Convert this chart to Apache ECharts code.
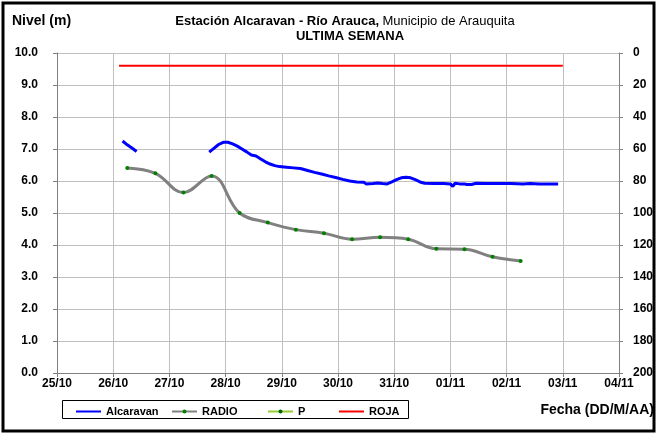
<!DOCTYPE html>
<html>
<head>
<meta charset="utf-8">
<script src="https://cdn.jsdelivr.net/npm/echarts@6/dist/echarts.min.js"></script>
<style>
html, body { margin: 0; padding: 0; background: #fff; }
#chart { width: 658px; height: 434px; }
</style>
</head>
<body>
<div id="chart"></div>
<script>
// Day labels on the time axis (25/10 .. 04/11)
const dayLabels = ['25/10', '26/10', '27/10', '28/10', '29/10', '30/10', '31/10', '01/11', '02/11', '03/11', '04/11'];

// Alcaravan station level (m); a null value breaks the line
const alcaravanTimes = [
  '26/10 04:00', '26/10 06:00', '26/10 08:00', '26/10 10:00',
  '27/10 00:00',
  '27/10 17:00', '27/10 19:00', '27/10 21:00', '27/10 23:00',
  '28/10 01:00', '28/10 03:00', '28/10 05:00', '28/10 07:00', '28/10 09:00', '28/10 11:00',
  '28/10 13:00', '28/10 15:00', '28/10 17:00', '28/10 19:00', '28/10 21:00', '28/10 23:00',
  '29/10 02:00', '29/10 05:00', '29/10 08:00', '29/10 11:00', '29/10 14:00', '29/10 17:00',
  '29/10 20:00', '29/10 23:00',
  '30/10 02:00', '30/10 05:00', '30/10 08:00', '30/10 11:00', '30/10 12:00', '30/10 15:00',
  '30/10 17:00', '30/10 19:00', '30/10 21:00', '30/10 23:00',
  '31/10 01:00', '31/10 03:00', '31/10 05:00', '31/10 07:00', '31/10 09:00', '31/10 11:00',
  '31/10 13:00', '31/10 17:00', '31/10 21:00',
  '01/11 00:00', '01/11 01:00', '01/11 02:00', '01/11 04:00', '01/11 06:00', '01/11 07:00',
  '01/11 09:00', '01/11 11:00', '01/11 15:00', '01/11 20:00',
  '02/11 02:00', '02/11 07:00', '02/11 10:00', '02/11 14:00', '02/11 18:00', '02/11 22:00'
];
const alcaravanValues = [
  7.25, 7.13, 7.03, 6.92,
  null,
  6.90, 7.02, 7.14, 7.21,
  7.21, 7.16, 7.09, 7.00, 6.91, 6.81,
  6.78, 6.69, 6.60, 6.53, 6.48, 6.45,
  6.43, 6.41, 6.39, 6.33, 6.27, 6.22,
  6.16, 6.11,
  6.05, 6.00, 5.97, 5.96, 5.91, 5.92,
  5.94, 5.92, 5.91, 5.97,
  6.04, 6.10, 6.12, 6.10, 6.04, 5.97,
  5.93, 5.92, 5.92,
  5.91, 5.83, 5.93, 5.91, 5.91, 5.89,
  5.89, 5.93, 5.92, 5.92,
  5.92, 5.91, 5.92, 5.91, 5.91, 5.91
];

// RADIO readings (m), twice a day
const radioTimes = [
  '26/10 06:00', '26/10 18:00', '27/10 06:00', '27/10 18:00', '28/10 06:00',
  '28/10 18:00', '29/10 06:00', '29/10 18:00', '30/10 06:00', '30/10 18:00',
  '31/10 06:00', '31/10 18:00', '01/11 06:00', '01/11 18:00', '02/11 06:00'
];
const radioValues = [6.41, 6.24, 5.64, 6.16, 5.00, 4.70, 4.48, 4.37, 4.18, 4.24, 4.18, 3.88, 3.87, 3.63, 3.50];

// Precipitation (mm) – no readings in this period
const pTimes = [];
const pValues = [];

// Red alert threshold (m)
const rojaTimes = ['26/10 02:30', '03/11 00:00'];
const rojaValues = [9.6, 9.6];

// Axis ticks
const levelMin = 0, levelMax = 10, levelStep = 1;
const rainMin = 0, rainMax = 200, rainStep = 20;

// 'DD/MM HH:mm' -> days after 25/10 00:00
function dayOffset(s) {
  const [d, t] = s.split(' ');
  const [dd, mm] = d.split('/').map(Number);
  const [hh, mi] = t.split(':').map(Number);
  const day = mm === 10 ? dd - 25 : dd + 6;
  return day + (hh + mi / 60) / 24;
}
function pairs(times, values) {
  return times.map((t, i) => [dayOffset(t), values[i] === null ? '-' : values[i]]);
}

const FONT = 'Liberation Sans, Arial, sans-serif';
const labelStyle = { color: '#000', fontFamily: FONT, fontWeight: 'bold', fontSize: 12 };

const chart = echarts.init(document.getElementById('chart'), null, { renderer: 'canvas' });

// One legend block per entry so each sits at its own spot inside the framed box
function legendAt(item, left) {
  return {
    data: [item], left: left, top: 406, padding: 0,
    itemWidth: 25, itemHeight: 5, itemGap: 0,
    textStyle: { color: '#000', fontFamily: FONT, fontWeight: 'bold', fontSize: 11 }
  };
}

chart.setOption({
  animation: false,
  backgroundColor: '#fff',
  grid: { left: 57, right: 39, top: 53, bottom: 61 },
  legend: [
    legendAt({ name: 'Alcaravan', itemStyle: { opacity: 0 } }, 75),
    legendAt('RADIO', 171),
    legendAt('P', 267),
    legendAt({ name: 'ROJA', itemStyle: { opacity: 0 } }, 338)
  ],
  graphic: [
    { type: 'rect', shape: { x: 3, y: 3, width: 651, height: 428 },
      style: { fill: 'none', stroke: '#000', lineWidth: 3 }, silent: true },
    { type: 'rect', shape: { x: 62.5, y: 400.5, width: 346, height: 18 },
      style: { fill: 'none', stroke: '#000', lineWidth: 1 }, silent: true },
    { type: 'text', x: 345, y: 21,
      style: {
        text: '{b|Estación Alcaravan - Río Arauca,} {n|Municipio de Arauquita}',
        textAlign: 'center', textVerticalAlign: 'middle',
        rich: {
          b: { fontFamily: FONT, fontWeight: 'bold', fontSize: 13, fill: '#000' },
          n: { fontFamily: FONT, fontWeight: 'normal', fontSize: 13, fill: '#000' }
        }
      } },
    { type: 'text', x: 350, y: 36,
      style: { text: 'ULTIMA SEMANA', textAlign: 'center', textVerticalAlign: 'middle',
        fontFamily: FONT, fontWeight: 'bold', fontSize: 13, fill: '#000' } },
    { type: 'text', x: 12, y: 21,
      style: { text: 'Nivel (m)', textAlign: 'left', textVerticalAlign: 'middle',
        fontFamily: FONT, fontWeight: 'bold', fontSize: 14, fill: '#000' } },
    { type: 'text', x: 654, y: 410,
      style: { text: 'Fecha (DD/M/AA)', textAlign: 'right', textVerticalAlign: 'middle',
        fontFamily: FONT, fontWeight: 'bold', fontSize: 14, fill: '#000' } }
  ],
  xAxis: {
    type: 'value', min: 0, max: dayLabels.length - 1, interval: 1,
    axisLine: { show: true, onZero: false, lineStyle: { color: '#808080', width: 1 } },
    axisTick: { show: true, inside: false, length: 4, lineStyle: { color: '#808080' } },
    axisLabel: Object.assign({ margin: 5, formatter: v => dayLabels[Math.round(v)] }, labelStyle),
    splitLine: { show: true, lineStyle: { color: '#c0c0c0', width: 1 } }
  },
  yAxis: [
    {
      type: 'value', min: levelMin, max: levelMax, interval: levelStep, position: 'left',
      axisLine: { show: true, lineStyle: { color: '#808080', width: 1 } },
      axisTick: { show: true, inside: false, length: 4, lineStyle: { color: '#808080' } },
      axisLabel: Object.assign({ margin: 19, formatter: v => v.toFixed(1) }, labelStyle),
      splitLine: { show: true, lineStyle: { color: '#c0c0c0', width: 1 } }
    },
    {
      type: 'value', min: rainMin, max: rainMax, interval: rainStep, position: 'right', inverse: true,
      axisLine: { show: true, lineStyle: { color: '#808080', width: 1 } },
      axisTick: { show: true, inside: false, length: 4, lineStyle: { color: '#808080' } },
      axisLabel: Object.assign({ margin: 14 }, labelStyle),
      splitLine: { show: false }
    }
  ],
  series: [
    {
      name: 'Alcaravan', type: 'line', yAxisIndex: 0,
      data: pairs(alcaravanTimes, alcaravanValues),
      symbol: 'none', connectNulls: false,
      lineStyle: { color: '#0000ff', width: 3 }, itemStyle: { color: '#0000ff' }
    },
    {
      name: 'RADIO', type: 'line', yAxisIndex: 0,
      data: pairs(radioTimes, radioValues),
      smooth: 0.4, symbol: 'circle', symbolSize: 4, showSymbol: true,
      lineStyle: { color: '#808080', width: 3 }, itemStyle: { color: '#008000' }
    },
    {
      name: 'P', type: 'line', yAxisIndex: 1,
      data: pairs(pTimes, pValues),
      symbol: 'circle', symbolSize: 4,
      lineStyle: { color: '#99cc33', width: 3 }, itemStyle: { color: '#006600' }
    },
    {
      name: 'ROJA', type: 'line', yAxisIndex: 0,
      data: pairs(rojaTimes, rojaValues),
      symbol: 'none',
      lineStyle: { color: '#ff0000', width: 2 }, itemStyle: { color: '#ff0000' }
    }
  ]
});
</script>
</body>
</html>
